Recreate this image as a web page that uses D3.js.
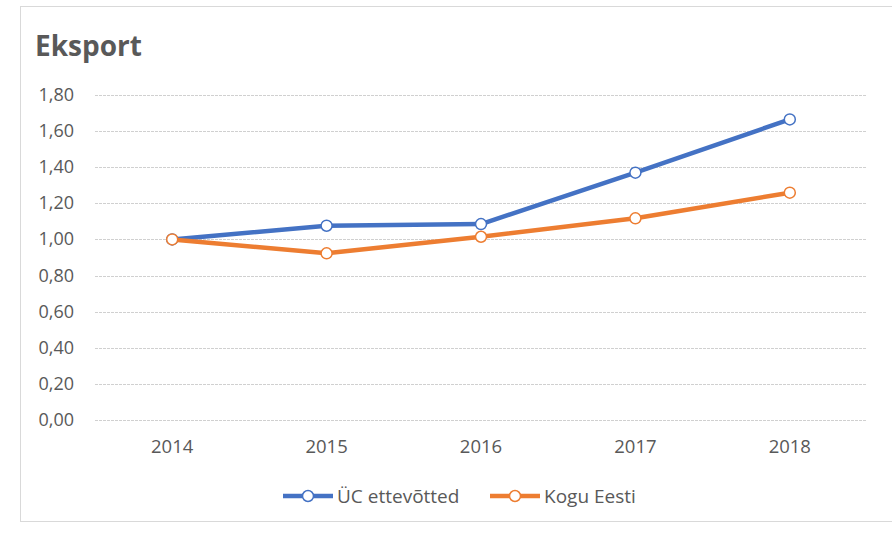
<!DOCTYPE html>
<html>
<head>
<meta charset="utf-8">
<script src="https://cdn.jsdelivr.net/npm/d3@7"></script>
<style>
  body { margin: 0; background: #fff; }
  text { font-family: "Open Sans", "Noto Sans", sans-serif; fill: #595959; }
</style>
</head>
<body>
<svg id="chart" width="892" height="533"></svg>
<script>
// data
let years = ["2014", "2015", "2016", "2017", "2018"];
let ucValues = [1.00, 1.076, 1.085, 1.37, 1.665];
let koguValues = [1.00, 0.923, 1.015, 1.117, 1.259];
let yTicks = [0, 0.2, 0.4, 0.6, 0.8, 1.0, 1.2, 1.4, 1.6, 1.8];
let seriesNames = ["ÜC ettevõtted", "Kogu Eesti"];
let seriesColors = ["#4472C4", "#ED7D31"];

let svg = d3.select("#chart");

// chart frame
svg.append("rect")
  .attr("x", 20.5).attr("y", 6.5)
  .attr("width", 900).attr("height", 515)
  .attr("fill", "#fff")
  .attr("stroke", "#d9d9d9");

svg.append("text")
  .attr("x", 35).attr("y", 56)
  .style("font-size", "28px")
  .style("font-weight", "bold")
  .text("Eksport");

let x = d3.scaleBand().domain(years).range([95, 867]);
let y = d3.scaleLinear().domain([0, 1.8]).range([420, 95]);

let fmt = function(d) { return d3.format(".2f")(d).replace(".", ","); };

// gridlines
svg.append("g").selectAll("line").data(yTicks).join("line")
  .attr("x1", 95).attr("x2", 867)
  .attr("y1", function(d) { return Math.round(y(d)) + 0.5; })
  .attr("y2", function(d) { return Math.round(y(d)) + 0.5; })
  .attr("stroke", "#d0d0d0")
  .attr("stroke-dasharray", "3,1");

// y labels
svg.append("g").selectAll("text").data(yTicks).join("text")
  .attr("x", 74)
  .attr("y", function(d) { return y(d) + 6; })
  .attr("text-anchor", "end")
  .style("font-size", "18px")
  .text(fmt);

// x labels
svg.append("g").selectAll("text").data(years).join("text")
  .attr("x", function(d) { return x(d) + x.bandwidth() / 2; })
  .attr("y", 453)
  .attr("text-anchor", "middle")
  .style("font-size", "18.5px")
  .text(function(d) { return d; });

let line = d3.line()
  .x(function(d, i) { return x(years[i]) + x.bandwidth() / 2; })
  .y(function(d) { return y(d); });

[ucValues, koguValues].forEach(function(vals, k) {
  let g = svg.append("g");
  g.append("path")
    .attr("d", line(vals))
    .attr("fill", "none")
    .attr("stroke", seriesColors[k])
    .attr("stroke-width", 4.5)
    .attr("stroke-linejoin", "round");
  g.selectAll("circle").data(vals).join("circle")
    .attr("cx", function(d, i) { return x(years[i]) + x.bandwidth() / 2; })
    .attr("cy", function(d) { return y(d); })
    .attr("r", 5.5)
    .attr("fill", "#fff")
    .attr("stroke", seriesColors[k])
    .attr("stroke-width", 1.5);
});

// legend
let legendX = [283, 490];
seriesNames.forEach(function(name, k) {
  let lg = svg.append("g").attr("transform", "translate(" + legendX[k] + ",496)");
  lg.append("line")
    .attr("x1", 0).attr("x2", 50)
    .attr("stroke", seriesColors[k])
    .attr("stroke-width", 4.5);
  lg.append("circle")
    .attr("cx", 25).attr("r", 5.5)
    .attr("fill", "#fff")
    .attr("stroke", seriesColors[k])
    .attr("stroke-width", 1.5);
  lg.append("text")
    .attr("x", 54).attr("y", 7)
    .style("font-size", "19px")
    .text(name);
});
</script>
</body>
</html>
